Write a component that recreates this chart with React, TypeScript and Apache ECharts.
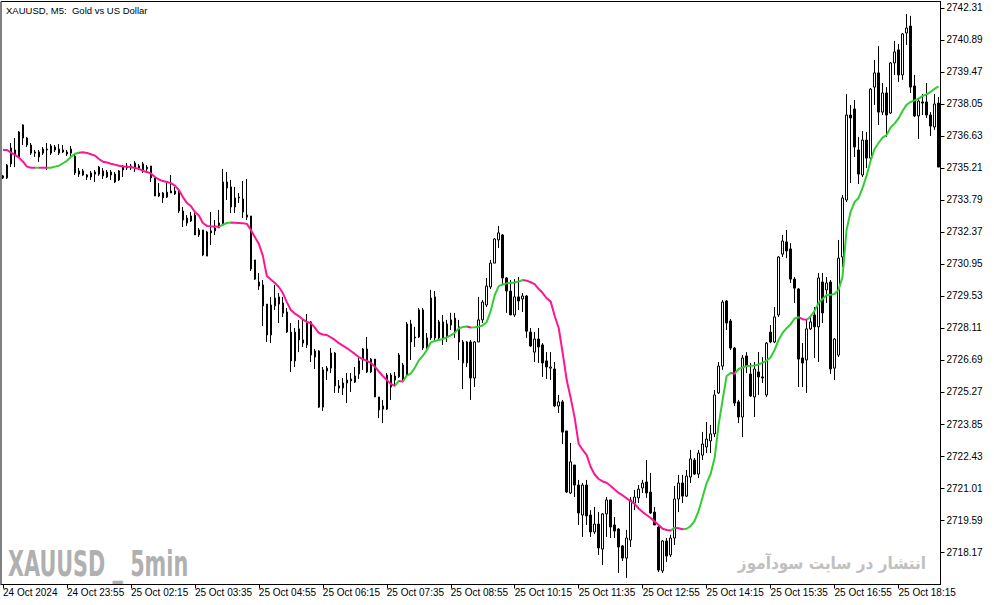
import React, { useEffect, useRef } from "react";
import * as echarts from "echarts";

const timeLabels = [
  "24 Oct 2024", "24 Oct 23:55", "25 Oct 02:15", "25 Oct 03:35", "25 Oct 04:55",
  "25 Oct 06:15", "25 Oct 07:35", "25 Oct 08:55", "25 Oct 10:15", "25 Oct 11:35",
  "25 Oct 12:55", "25 Oct 14:15", "25 Oct 15:35", "25 Oct 16:55", "25 Oct 18:15",
];

const yTicks = [
  2718.17, 2719.59, 2721.01, 2722.43, 2723.85, 2725.27, 2726.69, 2728.11, 2729.53,
  2730.95, 2732.37, 2733.79, 2735.21, 2736.63, 2738.05, 2739.47, 2740.89, 2742.31,
];

// [open, close, low, high]
const ohlc: number[][] = [
  [2734.77, 2734.86, 2734.72, 2734.90],
  [2734.77, 2735.34, 2734.72, 2735.39], [2735.39, 2736.10, 2735.25, 2736.32], [2736.01, 2735.79, 2735.25, 2736.54],
  [2735.70, 2736.81, 2735.65, 2736.85], [2737.12, 2736.54, 2736.23, 2737.15], [2736.54, 2736.23, 2736.14, 2736.58],
  [2736.23, 2735.87, 2735.79, 2736.32], [2735.92, 2735.87, 2735.70, 2736.01], [2735.70, 2735.92, 2735.48, 2736.01],
  [2735.87, 2736.05, 2735.79, 2736.14], [2736.05, 2736.01, 2735.12, 2736.32], [2735.87, 2736.19, 2735.79, 2736.27],
  [2736.14, 2736.01, 2735.92, 2736.23], [2736.05, 2735.87, 2735.79, 2736.27], [2735.92, 2736.01, 2735.87, 2736.23],
  [2735.92, 2735.83, 2735.74, 2736.01], [2735.87, 2736.05, 2735.74, 2736.19], [2735.74, 2734.99, 2734.90, 2735.79],
  [2735.08, 2734.94, 2734.81, 2735.21], [2735.08, 2734.90, 2734.86, 2735.17], [2734.90, 2734.81, 2734.68, 2734.94],
  [2734.81, 2734.99, 2734.68, 2735.08], [2734.94, 2735.03, 2734.59, 2735.12], [2734.94, 2735.25, 2734.86, 2735.30],
  [2735.08, 2734.86, 2734.72, 2735.21], [2734.81, 2735.03, 2734.77, 2735.12], [2735.03, 2734.90, 2734.68, 2735.12],
  [2734.94, 2734.59, 2734.54, 2735.03], [2734.68, 2735.08, 2734.63, 2735.12], [2735.12, 2735.30, 2734.81, 2735.34],
  [2735.30, 2735.21, 2735.12, 2735.43], [2735.21, 2735.30, 2735.12, 2735.39], [2735.43, 2735.17, 2735.03, 2735.52],
  [2735.21, 2735.30, 2735.12, 2735.39], [2735.39, 2735.12, 2734.99, 2735.48], [2735.17, 2735.25, 2735.08, 2735.34],
  [2735.30, 2734.77, 2734.59, 2735.30], [2734.77, 2733.97, 2733.97, 2734.77], [2733.97, 2734.10, 2733.92, 2734.54],
  [2734.10, 2733.88, 2733.66, 2734.14], [2733.92, 2734.14, 2733.88, 2734.63], [2734.19, 2734.10, 2734.10, 2734.90],
  [2734.19, 2734.06, 2734.01, 2734.37], [2734.14, 2733.30, 2733.21, 2734.19], [2733.30, 2732.90, 2732.59, 2733.48],
  [2732.99, 2732.77, 2732.64, 2733.12], [2732.86, 2733.08, 2732.81, 2733.26], [2733.12, 2732.24, 2732.24, 2733.21],
  [2732.24, 2732.46, 2732.15, 2732.55], [2732.46, 2731.35, 2731.30, 2732.46], [2731.30, 2732.37, 2731.30, 2732.42],
  [2732.33, 2732.42, 2731.79, 2733.26], [2732.42, 2732.55, 2732.24, 2732.90], [2732.55, 2732.77, 2732.55, 2733.35],
  [2732.68, 2734.59, 2732.68, 2735.17], [2734.59, 2734.32, 2733.79, 2735.03], [2734.37, 2733.48, 2733.21, 2734.68],
  [2733.48, 2733.88, 2733.21, 2734.37], [2733.88, 2733.92, 2733.66, 2734.10], [2733.83, 2733.26, 2732.99, 2734.63],
  [2733.12, 2733.03, 2732.90, 2734.72], [2733.08, 2730.73, 2730.64, 2733.08], [2731.13, 2730.28, 2730.24, 2731.13],
  [2730.15, 2729.97, 2729.80, 2730.55], [2730.02, 2729.09, 2728.20, 2730.24], [2729.17, 2727.80, 2727.49, 2729.17],
  [2727.80, 2729.13, 2727.44, 2729.49], [2729.09, 2729.44, 2728.91, 2730.02], [2729.49, 2729.17, 2728.33, 2729.66],
  [2729.22, 2728.77, 2728.60, 2729.49], [2728.82, 2727.93, 2727.89, 2729.00], [2727.93, 2726.65, 2726.16, 2728.33],
  [2726.65, 2727.93, 2726.38, 2728.11], [2728.07, 2727.58, 2727.04, 2728.47], [2727.58, 2727.44, 2727.27, 2728.47],
  [2727.36, 2728.38, 2727.22, 2728.73], [2728.38, 2726.91, 2726.60, 2728.42], [2726.82, 2727.09, 2726.29, 2727.18],
  [2727.09, 2724.60, 2724.56, 2727.13], [2724.60, 2726.25, 2724.43, 2726.38], [2726.20, 2726.33, 2725.80, 2726.42],
  [2726.33, 2727.00, 2726.11, 2727.22], [2727.00, 2725.54, 2725.23, 2727.04], [2725.54, 2725.45, 2725.23, 2725.80],
  [2725.45, 2725.67, 2725.14, 2725.89], [2725.67, 2725.80, 2724.78, 2726.11], [2725.76, 2725.85, 2725.27, 2726.11],
  [2725.71, 2725.98, 2725.67, 2726.38], [2726.07, 2726.65, 2725.85, 2726.78], [2726.69, 2727.18, 2726.25, 2727.22],
  [2727.18, 2726.16, 2726.11, 2727.71], [2726.16, 2726.73, 2726.11, 2726.78], [2726.73, 2725.05, 2725.05, 2726.73],
  [2725.05, 2724.47, 2724.11, 2725.05], [2724.51, 2724.65, 2723.89, 2724.92], [2724.51, 2726.02, 2724.47, 2726.11],
  [2726.02, 2725.49, 2724.92, 2726.11], [2725.80, 2725.98, 2725.58, 2726.16], [2725.94, 2726.91, 2725.89, 2727.00],
  [2726.47, 2725.80, 2725.80, 2726.56], [2726.02, 2728.29, 2726.02, 2728.38], [2728.29, 2727.49, 2726.69, 2728.47],
  [2727.71, 2727.67, 2727.27, 2728.16], [2727.71, 2728.91, 2727.67, 2729.00], [2728.91, 2727.22, 2727.13, 2729.00],
  [2727.22, 2727.67, 2727.13, 2727.89], [2727.67, 2729.44, 2727.58, 2729.80], [2729.49, 2727.67, 2727.58, 2729.75],
  [2727.67, 2728.38, 2727.58, 2728.47], [2728.38, 2727.67, 2727.36, 2728.69], [2727.76, 2728.29, 2727.49, 2728.47],
  [2728.24, 2728.47, 2728.02, 2728.78], [2728.55, 2727.93, 2727.67, 2728.78], [2728.16, 2727.49, 2726.69, 2728.47],
  [2727.49, 2726.56, 2725.40, 2727.58], [2726.56, 2727.49, 2726.38, 2727.53], [2727.49, 2725.89, 2724.92, 2727.58],
  [2725.89, 2727.49, 2725.49, 2727.53], [2727.49, 2728.47, 2727.49, 2729.49], [2728.47, 2729.26, 2728.33, 2729.35],
  [2729.13, 2729.97, 2729.04, 2730.33], [2729.93, 2730.99, 2729.84, 2731.13], [2730.99, 2732.06, 2730.99, 2732.10],
  [2732.02, 2732.33, 2731.66, 2732.64], [2732.24, 2730.33, 2730.02, 2732.28], [2730.33, 2729.75, 2728.78, 2730.37],
  [2729.75, 2728.69, 2728.69, 2730.24], [2728.69, 2729.49, 2728.60, 2730.28], [2729.49, 2729.31, 2728.91, 2730.37],
  [2729.40, 2729.53, 2728.82, 2729.66], [2729.53, 2727.97, 2727.67, 2729.57], [2727.93, 2727.31, 2727.27, 2728.11],
  [2727.04, 2727.62, 2726.60, 2727.93], [2727.62, 2727.27, 2726.56, 2728.11], [2727.36, 2726.56, 2725.94, 2727.44],
  [2726.65, 2726.38, 2725.85, 2727.04], [2726.33, 2726.38, 2725.80, 2727.04], [2726.29, 2724.65, 2724.60, 2726.60],
  [2724.65, 2724.83, 2724.34, 2725.14], [2724.83, 2723.49, 2722.96, 2724.92], [2723.54, 2720.83, 2720.79, 2723.54],
  [2720.79, 2722.17, 2720.74, 2723.01], [2722.03, 2721.14, 2720.61, 2722.03], [2721.14, 2719.90, 2719.37, 2721.37],
  [2719.81, 2721.14, 2718.84, 2721.23], [2721.14, 2719.77, 2719.37, 2721.37], [2719.81, 2719.06, 2718.84, 2720.03],
  [2719.06, 2719.41, 2718.97, 2720.17], [2719.41, 2718.35, 2718.04, 2719.94], [2718.30, 2719.86, 2717.59, 2719.90],
  [2719.86, 2720.48, 2718.84, 2720.61], [2720.48, 2719.28, 2718.79, 2720.48], [2719.37, 2719.10, 2718.79, 2719.72],
  [2719.19, 2718.39, 2717.24, 2719.23], [2718.44, 2717.90, 2717.77, 2718.48], [2717.90, 2718.79, 2717.02, 2719.15],
  [2718.70, 2720.48, 2718.39, 2720.61], [2720.34, 2720.61, 2720.03, 2720.92], [2720.57, 2720.96, 2720.34, 2721.14],
  [2721.01, 2721.23, 2720.79, 2721.37], [2721.28, 2720.79, 2720.57, 2722.25], [2720.83, 2719.90, 2719.86, 2721.68],
  [2719.94, 2719.37, 2719.37, 2720.17], [2719.28, 2717.37, 2717.28, 2719.37], [2717.33, 2718.66, 2717.24, 2718.70],
  [2718.66, 2717.99, 2717.73, 2718.79], [2718.04, 2718.79, 2717.95, 2718.93], [2718.79, 2720.52, 2718.48, 2721.10],
  [2720.52, 2721.23, 2719.94, 2721.59], [2721.23, 2720.65, 2720.34, 2721.59], [2720.65, 2721.54, 2720.61, 2721.81],
  [2721.50, 2722.30, 2721.23, 2722.70], [2722.25, 2721.63, 2721.59, 2722.34], [2721.63, 2722.56, 2721.45, 2722.70],
  [2722.47, 2722.96, 2722.25, 2723.50], [2722.83, 2723.18, 2722.56, 2723.94], [2723.10, 2723.41, 2722.56, 2723.81],
  [2723.41, 2725.14, 2723.27, 2725.36], [2725.23, 2726.42, 2725.18, 2726.60], [2726.42, 2729.26, 2726.25, 2729.35],
  [2729.31, 2728.33, 2728.02, 2729.35], [2728.42, 2727.22, 2727.13, 2728.51], [2727.22, 2724.78, 2724.65, 2727.27],
  [2724.83, 2724.16, 2723.89, 2724.92], [2724.16, 2726.78, 2723.27, 2726.91], [2726.87, 2726.42, 2726.11, 2727.04],
  [2726.07, 2725.09, 2725.05, 2726.56], [2725.05, 2726.29, 2724.16, 2726.60], [2726.16, 2725.94, 2725.14, 2727.04],
  [2725.94, 2725.89, 2725.67, 2726.82], [2725.14, 2727.44, 2725.05, 2727.49], [2727.93, 2727.49, 2727.44, 2728.24],
  [2727.49, 2728.60, 2727.44, 2729.04], [2728.69, 2731.26, 2728.60, 2731.30], [2731.39, 2731.97, 2731.26, 2732.24],
  [2731.93, 2731.53, 2731.21, 2732.46], [2731.62, 2730.28, 2730.11, 2731.88], [2730.28, 2729.88, 2729.22, 2730.37],
  [2729.84, 2726.73, 2725.49, 2729.88], [2726.78, 2726.56, 2725.49, 2727.44], [2726.69, 2728.07, 2725.23, 2728.47],
  [2728.07, 2728.38, 2728.02, 2728.60], [2728.69, 2728.16, 2726.78, 2729.04], [2728.16, 2730.33, 2726.60, 2730.55],
  [2730.15, 2728.78, 2728.33, 2730.55], [2729.80, 2730.11, 2729.22, 2730.37], [2730.15, 2726.29, 2726.07, 2730.24],
  [2726.33, 2727.62, 2725.80, 2727.67], [2726.91, 2731.21, 2726.82, 2732.02], [2731.26, 2733.88, 2730.82, 2734.01],
  [2733.79, 2737.56, 2733.70, 2738.49], [2737.56, 2737.43, 2734.54, 2738.01], [2737.83, 2736.14, 2735.70, 2738.23],
  [2736.01, 2734.94, 2734.50, 2736.59], [2734.90, 2736.45, 2734.81, 2736.85], [2736.45, 2735.65, 2735.21, 2736.81],
  [2735.65, 2738.71, 2735.52, 2738.76], [2738.80, 2739.43, 2738.01, 2740.00], [2739.43, 2737.69, 2737.12, 2740.62],
  [2737.69, 2738.54, 2737.56, 2738.98], [2738.54, 2737.56, 2736.59, 2738.80], [2737.65, 2739.87, 2737.61, 2739.91],
  [2739.87, 2740.36, 2739.34, 2740.85], [2740.45, 2739.34, 2739.03, 2740.71], [2739.34, 2741.16, 2739.12, 2741.20],
  [2741.20, 2741.42, 2740.67, 2742.04], [2741.51, 2738.80, 2738.54, 2741.96], [2738.85, 2737.52, 2737.47, 2739.34],
  [2737.52, 2738.18, 2736.50, 2738.32], [2738.14, 2738.09, 2737.56, 2738.49], [2738.14, 2737.56, 2737.43, 2738.98],
  [2737.56, 2737.07, 2736.63, 2737.69], [2737.03, 2738.05, 2736.90, 2738.49], [2738.09, 2735.25, 2735.25, 2738.36],
];

const maValues = [
  2736.01,
  2736.01, 2735.89, 2735.79, 2735.67, 2735.49, 2735.27, 2735.22, 2735.22, 2735.22, 2735.22,
  2735.22, 2735.22, 2735.27, 2735.31, 2735.42, 2735.53, 2735.71, 2735.84, 2735.89, 2735.91,
  2735.88, 2735.82, 2735.76, 2735.61, 2735.49, 2735.45, 2735.40, 2735.36, 2735.31, 2735.28,
  2735.26, 2735.25, 2735.21, 2735.17, 2735.08, 2735.03, 2734.97, 2734.81, 2734.70, 2734.63,
  2734.59, 2734.54, 2734.43, 2734.23, 2733.92, 2733.66, 2733.52, 2733.26, 2733.10, 2732.77,
  2732.64, 2732.62, 2732.61, 2732.60, 2732.70, 2732.77, 2732.79, 2732.78, 2732.77, 2732.76,
  2732.73, 2732.46, 2732.15, 2731.84, 2731.31, 2730.42, 2730.26, 2730.11, 2729.93, 2729.66,
  2729.26, 2728.91, 2728.75, 2728.64, 2728.49, 2728.38, 2728.33, 2728.13, 2727.89, 2727.82,
  2727.80, 2727.69, 2727.58, 2727.44, 2727.33, 2727.22, 2727.09, 2726.96, 2726.82, 2726.73,
  2726.65, 2726.56, 2726.40, 2726.18, 2725.98, 2725.80, 2725.63, 2725.54, 2725.76, 2725.73,
  2726.00, 2726.09, 2726.34, 2726.67, 2726.87, 2727.13, 2727.47, 2727.53, 2727.58, 2727.62,
  2727.69, 2727.78, 2727.89, 2728.09, 2728.15, 2728.18, 2728.13, 2728.14, 2728.17, 2728.22,
  2728.38, 2728.87, 2729.57, 2729.97, 2730.04, 2730.09, 2730.11, 2730.13, 2730.17, 2730.24,
  2730.21, 2730.14, 2730.06, 2729.84, 2729.66, 2729.43, 2729.28, 2728.64, 2728.11, 2727.00,
  2725.80, 2725.00, 2724.12, 2722.96, 2722.70, 2722.47, 2721.94, 2721.61, 2721.41, 2721.30,
  2721.24, 2721.10, 2720.94, 2720.79, 2720.68, 2720.55, 2720.43, 2720.30, 2720.10, 2719.94,
  2719.81, 2719.68, 2719.52, 2719.37, 2719.20, 2719.15, 2719.12, 2719.25, 2719.22, 2719.18,
  2719.20, 2719.32, 2719.55, 2719.99, 2720.61, 2721.23, 2721.63, 2722.34, 2723.81, 2724.92,
  2725.98, 2726.11, 2726.08, 2726.29, 2726.36, 2726.42, 2726.43, 2726.45, 2726.49, 2726.57,
  2726.66, 2726.80, 2727.13, 2727.58, 2727.89, 2728.10, 2728.27, 2728.53, 2728.59, 2728.50,
  2728.47, 2728.62, 2728.87, 2729.22, 2729.40, 2729.57, 2729.58, 2729.62, 2729.80, 2730.39,
  2732.46, 2733.26, 2733.70, 2733.88, 2734.32, 2734.86, 2735.52, 2736.05, 2736.32, 2736.56,
  2736.67, 2737.01, 2737.18, 2737.41, 2737.74, 2738.01, 2738.14, 2738.21, 2738.29, 2738.40,
  2738.48, 2738.58, 2738.72, 2738.83,
];

// bar-index spans where the average is rising (drawn green)
const risingSpans = [
  [8, 9], [11, 19], [54, 57], [98, 99], [100, 116], [117, 130],
  [167, 168], [170, 182], [183, 199], [201, 234],
];

const PINK = "#ff1493";
const GREEN = "#32cd32";

export default function App() {
  const ref = useRef<HTMLDivElement>(null);
  useEffect(() => {
    if (!ref.current) return;
    const chart = echarts.init(ref.current, null, { renderer: "svg" });
    const categories = ohlc.map((_, i) => String(i));
    const labelAt = (i: number) => (i % 16 === 0 ? timeLabels[i / 16] ?? "" : "");
    chart.setOption({
      animation: false,
      backgroundColor: "#ffffff",
      grid: {
        left: 0.5, right: 53.5, top: 1.5, bottom: 20.5,
        show: true, borderColor: "#000", borderWidth: 1, backgroundColor: "transparent",
      },
      xAxis: {
        type: "category",
        data: categories,
        boundaryGap: true,
        axisLine: { show: true, lineStyle: { color: "#000", width: 1 } },
        axisTick: { show: true, alignWithLabel: true, interval: 15, length: 4, lineStyle: { color: "#000" } },
        axisLabel: {
          interval: 15, align: "left", margin: 3, color: "#000", fontSize: 10,
          fontFamily: "Liberation Sans",
          formatter: (_v: string, i: number) => labelAt(i),
        },
        splitLine: { show: false },
      },
      yAxis: {
        type: "value",
        position: "right",
        min: 2716.728,
        max: 2742.598,
        axisLine: { show: true, lineStyle: { color: "#000", width: 1 } },
        axisTick: { show: true, length: 4, customValues: yTicks, lineStyle: { color: "#000" } },
        axisLabel: {
          customValues: yTicks, margin: 6, color: "#000", fontSize: 10,
          fontFamily: "Liberation Sans",
          formatter: (v: number) => v.toFixed(2),
        },
        splitLine: { show: false },
      },
      visualMap: {
        type: "piecewise",
        show: false,
        dimension: 0,
        seriesIndex: 1,
        pieces: risingSpans.map(([a, b]) => ({ gte: a, lte: b, color: GREEN })),
        outOfRange: { color: PINK },
      },
      series: [
        {
          type: "candlestick",
          data: ohlc,
          barWidth: 2,
          z: 2,
          itemStyle: {
            color: "#ffffff", color0: "#000000",
            borderColor: "#000000", borderColor0: "#000000", borderColorDoji: "#000000",
            borderWidth: 1,
          },
        },
        {
          type: "line",
          data: maValues,
          showSymbol: false,
          symbol: "none",
          z: 3,
          lineStyle: { width: 2 },
        },
      ],
      graphic: [
        {
          type: "text", x: 6, y: 10, z: 10,
          style: {
            text: "XAUUSD, M5:  Gold vs US Dollar", fill: "#000",
            font: '9.5px "Liberation Sans"', verticalAlign: "middle",
          },
        },
        {
          type: "text", x: 8, y: 564, scaleX: 0.66, z: 0,
          style: {
            text: "XAUUSD _ 5min", fill: "#b0b0b0",
            font: 'bold 35px "Liberation Sans Narrow", "DejaVu Sans Condensed", sans-serif',
            verticalAlign: "middle",
          },
        },
        {
          type: "text", x: 926, y: 563, scaleX: 0.9, z: 0,
          style: {
            text: "انتشار در سایت سودآموز", fill: "#c0c0c0",
            font: 'bold 17px "DejaVu Sans"', align: "right", verticalAlign: "middle",
          },
        },
      ],
    });
    return () => chart.dispose();
  }, []);
  return <div ref={ref} style={{ position: "fixed", left: 0, top: 0, width: 994, height: 605 }} />;
}
